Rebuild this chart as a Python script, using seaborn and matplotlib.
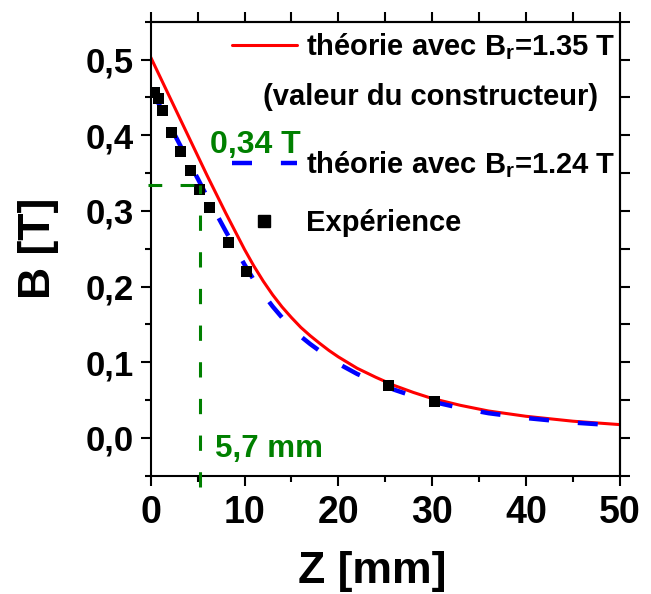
import matplotlib
matplotlib.use('Agg')
import matplotlib.pyplot as plt
from matplotlib.lines import Line2D
from matplotlib.ticker import AutoMinorLocator, NullFormatter
import seaborn as sns

# courbes théoriques
z_theo = [0, 1, 2, 3, 4, 5, 6, 7, 8, 9, 10, 11, 12, 13, 14, 15, 16, 17, 18,
          19, 20, 22, 24, 26, 28, 30, 33, 36, 40, 45, 50]
b_135 = [0.503, 0.477, 0.451, 0.425, 0.399, 0.373, 0.347, 0.322, 0.297, 0.273,
         0.249, 0.227, 0.207, 0.189, 0.173, 0.159, 0.146, 0.135, 0.125,
         0.1155, 0.107, 0.092, 0.080, 0.069, 0.060, 0.052, 0.043, 0.0355,
         0.0285, 0.022, 0.0175]
b_124 = [0.462, 0.438, 0.414, 0.390, 0.366, 0.343, 0.319, 0.296, 0.273, 0.251,
         0.229, 0.2085, 0.190, 0.1736, 0.159, 0.146, 0.134, 0.124, 0.115,
         0.106, 0.098, 0.0845, 0.0735, 0.0634, 0.0551, 0.0478, 0.0395, 0.0326,
         0.0262, 0.0202, 0.0161]

# points expérimentaux
z_exp = [0.45, 0.8, 1.25, 2.25, 3.2, 4.2, 5.25, 6.25, 8.25, 10.2, 25.3, 30.3]
b_exp = [0.456, 0.449, 0.433, 0.404, 0.378, 0.353, 0.328, 0.304, 0.258, 0.220,
         0.069, 0.048]

# lecture graphique
z_ref = 5.25
b_ref = 0.334

x_ticks = [0, 10, 20, 30, 40, 50]
y_ticks = [0.0, 0.1, 0.2, 0.3, 0.4, 0.5]
y_labels = ['0,0', '0,1', '0,2', '0,3', '0,4', '0,5']

red = '#ff0000'
blue = '#0000ff'
green = '#008000'

sns.set_style('ticks')
plt.rcParams['font.family'] = ['Liberation Sans', 'DejaVu Sans']
plt.rcParams['font.weight'] = 'bold'
plt.rcParams['text.color'] = 'black'
plt.rcParams['axes.labelcolor'] = 'black'
plt.rcParams['axes.edgecolor'] = 'black'
plt.rcParams['xtick.color'] = 'black'
plt.rcParams['ytick.color'] = 'black'
plt.rcParams['mathtext.fontset'] = 'custom'
plt.rcParams['mathtext.rm'] = 'Liberation Sans:bold'
plt.rcParams['mathtext.bf'] = 'Liberation Sans:bold'
plt.rcParams['mathtext.default'] = 'bf'

fig = plt.figure(figsize=(6.51, 5.94), dpi=100)
ax = fig.add_axes([0.2315, 0.1992, 0.7205, 0.7643])

sns.lineplot(x=z_theo, y=b_135, color=red, lw=2.2, ax=ax, zorder=2)
sns.lineplot(x=z_theo, y=b_124, color=blue, lw=3.2, ax=ax, zorder=3)
ax.lines[-1].set_dashes([4.5, 6.5])
sns.scatterplot(x=z_exp, y=b_exp, marker='s', s=63, color='black',
                edgecolor='none', ax=ax, zorder=4)

# pointillés verts
ax.plot([-0.25, z_ref], [b_ref, b_ref], color=green, lw=2.2,
        dashes=[4.5, 6], clip_on=False, zorder=5)
ax.plot([z_ref, z_ref], [-0.065, b_ref], color=green, lw=2.2,
        dashes=[5, 7], clip_on=False, zorder=5)
ax.text(6.3, 0.387, '0,34 T', color=green, fontsize=23, va='center', ha='left')
ax.text(6.84, -0.015, '5,7 mm', color=green, fontsize=22.5, va='center', ha='left')

ax.set_xlim(0, 50)
ax.set_ylim(-0.05, 0.55)
ax.set_xticks(x_ticks)
ax.set_yticks(y_ticks)
ax.set_yticklabels(y_labels)
ax.xaxis.set_minor_locator(AutoMinorLocator(2))
ax.yaxis.set_minor_locator(AutoMinorLocator(2))
ax.tick_params(which='major', direction='out', length=7.2, width=1.5, pad=5)
ax.tick_params(which='minor', direction='out', length=4, width=1.5)
ax.tick_params(axis='x', labelsize=27, pad=7)
ax.tick_params(axis='y', labelsize=25)
for sp in ax.spines.values():
    sp.set_linewidth(1.5)

top = ax.secondary_xaxis('top')
top.set_xticks(x_ticks)
top.xaxis.set_minor_locator(AutoMinorLocator(2))
top.xaxis.set_major_formatter(NullFormatter())
top.tick_params(which='both', direction='out', length=7.2, width=1.5)
right = ax.secondary_yaxis('right')
right.set_yticks(y_ticks)
right.yaxis.set_minor_locator(AutoMinorLocator(2))
right.yaxis.set_major_formatter(NullFormatter())
right.tick_params(which='both', direction='out', length=7.2, width=1.5)
for sec in (top, right):
    for sp in sec.spines.values():
        sp.set_linewidth(1.5)

ax.set_xlabel('Z [mm]', fontsize=32, fontweight='bold', va='center')
ax.xaxis.set_label_coords(0.4716, -0.212)
ax.set_ylabel('B [T]', fontsize=32, fontweight='bold', va='center')
ax.yaxis.set_label_coords(-0.240, 0.5015)

handles = [Line2D([], [], color=red, lw=2.2),
           Line2D([], [], color='none'),
           Line2D([], [], color=blue, lw=3.2, dashes=[4.5, 6.5]),
           Line2D([], [], color='black', marker='s', ls='none', markersize=8)]
labels = ['théorie avec B$_r$=1.35 T', ' ', 'théorie avec B$_r$=1.24 T',
          'Expérience']
ax.legend(handles, labels, loc='upper right', bbox_to_anchor=(0.99, 0.978),
          frameon=False, fontsize=21, handlelength=2.23, handletextpad=0.31,
          labelspacing=1.0, borderpad=0, borderaxespad=0, numpoints=1)
ax.text(0.2393, 0.8348, '(valeur du constructeur)', transform=ax.transAxes,
        fontsize=21, va='center', ha='left')

fig.savefig('out.png', dpi=100)
